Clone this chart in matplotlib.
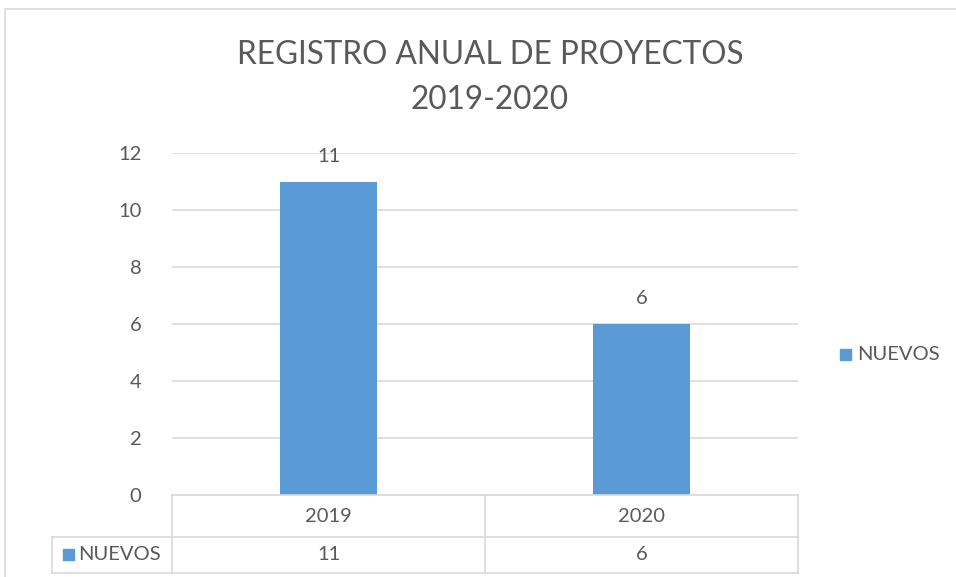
import matplotlib
matplotlib.use("Agg")
import matplotlib.pyplot as plt
from matplotlib.lines import Line2D
from matplotlib.patches import Rectangle

categories = ["2019", "2020"]
series_name = "NUEVOS"
values = [11, 6]
yticks = [0, 2, 4, 6, 8, 10, 12]
title_lines = ["REGISTRO ANUAL DE PROYECTOS", "2019-2020"]

W, H = 956, 577
plt.rcParams['font.family'] = ['Lato', 'DejaVu Sans']
txt = '#595959'
grid = '#d9d9d9'
bar_c = '#5b9bd5'
fs = 14.5

fig = plt.figure(figsize=(W/100, H/100), dpi=100)
fig.patch.set_facecolor('white')

def fx(px): return px / W
def fy(py): return 1 - py / H

# outer chart border
fig.add_artist(Rectangle((fx(5), fy(600)), fx(1000), fy(9) - fy(600),
                         transform=fig.transFigure, fill=False, edgecolor=grid, lw=1.2))

L, R, T, B = 172, 798, 153, 495
ax = fig.add_axes([fx(L), fy(B), fx(R) - fx(L), fy(T) - fy(B)])
x = list(range(len(categories)))
ax.bar(x, values, width=0.31, color=bar_c, zorder=3)
ax.set_xlim(-0.5, len(categories) - 0.5)
ax.set_ylim(0, 12)
ax.set_yticks(yticks)
ax.set_yticklabels([str(t) for t in yticks], fontsize=fs, color=txt)
ax.tick_params(axis='y', length=0, pad=22)
ax.set_xticks([])
for s in ax.spines.values():
    s.set_visible(False)
ax.grid(axis='y', color=grid, lw=1.2, zorder=0)
ax.set_axisbelow(True)

for xi, v in zip(x, values):
    ax.annotate(str(v), (xi, v), xytext=(0, 25), textcoords='offset pixels',
                ha='center', va='center', fontsize=fs, color=txt)

# title
fig.text(fx(490), fy(55), title_lines[0], ha='center', va='center', fontsize=22.7, color=txt)
fig.text(fx(490), fy(100), title_lines[1], ha='center', va='center', fontsize=22.7, color=txt)

# data table
tr = fig.transFigure
row1_top, row_mid, row_bot = 495, 537, 573
col_left_legend = 52
def hline(x0, x1, y):
    fig.add_artist(Line2D([fx(x0), fx(x1)], [fy(y), fy(y)], transform=tr, color=grid, lw=1.2))
def vline(xp, y0, y1):
    fig.add_artist(Line2D([fx(xp), fx(xp)], [fy(y0), fy(y1)], transform=tr, color=grid, lw=1.2))

hline(L, R, row1_top)
hline(col_left_legend, R, row_mid)
hline(col_left_legend, R, row_bot)
ncat = len(categories)
cw = (R - L) / ncat
for i in range(ncat + 1):
    vline(L + i * cw, row1_top, row_bot)
vline(col_left_legend, row_mid, row_bot)

for i, c in enumerate(categories):
    cx = L + (i + 0.5) * cw
    fig.text(fx(cx), fy((row1_top + row_mid) / 2), c, ha='center', va='center', fontsize=fs, color=txt)
    fig.text(fx(cx), fy((row_mid + row_bot) / 2), str(values[i]), ha='center', va='center', fontsize=fs, color=txt)

# legend key in table
fig.add_artist(Rectangle((fx(63), fy(560)), fx(11), fy(549) - fy(560), transform=tr, color=bar_c))
fig.text(fx(78), fy((row_mid + row_bot) / 2), series_name, ha='left', va='center', fontsize=fs, color=txt)

# right legend
fig.add_artist(Rectangle((fx(840), fy(360)), fx(11), fy(349) - fy(360), transform=tr, color=bar_c))
fig.text(fx(857), fy(355), series_name, ha='left', va='center', fontsize=fs, color=txt)

fig.savefig("out.png", dpi=100)
